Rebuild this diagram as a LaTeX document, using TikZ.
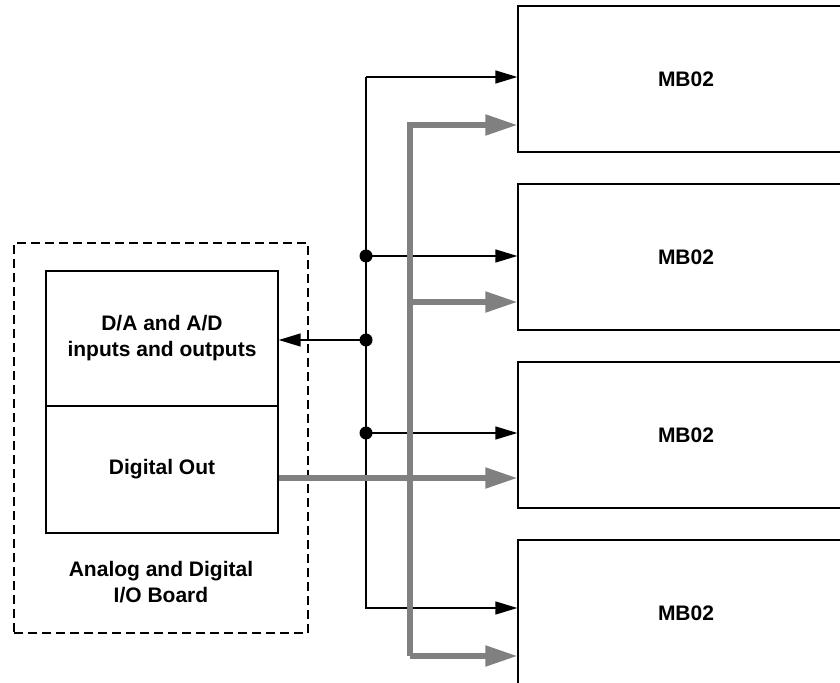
\documentclass[tikz,border=0pt]{standalone}
\usepackage{fontspec}
\setmainfont{Liberation Sans}
\usetikzlibrary{arrows.meta}
\definecolor{busgray}{HTML}{808080}
\tikzset{
  px/.style={x=0.5pt,y=-0.5pt},
  lbl/.style={font=\fontsize{10.5}{13}\selectfont\bfseries, align=center},
  mbbox/.style={draw, line width=0.7pt, minimum width=168pt, minimum height=73pt, inner sep=0pt, lbl},
  iobox/.style={draw, line width=0.7pt, minimum width=116pt, inner sep=0pt, lbl},
  board/.style={draw, line width=1.3pt, dash pattern=on 4.5pt off 2.5pt, minimum width=147pt, minimum height=195pt},
  blk/.style={draw, line width=0.75pt, line join=miter},
  blkarrow/.style={blk, -{Triangle[length=11pt,width=6.5pt]}},
  gry/.style={draw=busgray, line width=2.6pt, line join=miter},
  gryarrow/.style={gry, -{Triangle[length=16pt,width=10pt]}},
  jdot/.style={circle, fill, inner sep=0pt, minimum size=6.5pt}
}
\begin{document}
\begin{tikzpicture}[px]
\useasboundingbox (0,0) rectangle (840,683);
% MB02 boxes
\node[mbbox] (mb1) at (686,79) {MB02};
\node[mbbox] (mb2) at (686,257) {MB02};
\node[mbbox] (mb3) at (686,435) {MB02};
\node[mbbox] (mb4) at (686,613) {MB02};
% I/O board
\node[board] (board) at (161,438) {};
\node[iobox, minimum height=67.5pt] (da) at (162,338.5) {D/A and A/D\\inputs and outputs};
\node[iobox, minimum height=63.5pt] (dout) at (162,469.5) {Digital Out};
\node[lbl] (boardlbl) at (161,582) {Analog and Digital\\I/O Board};
% black bus
\coordinate (b1) at (366,77);
\coordinate (b4) at (366,608);
\node[jdot] (j2) at (366,256) {};
\node[jdot] (jda) at (366,340) {};
\node[jdot] (j3) at (366,433) {};
\draw[blkarrow] (b1) -- (b4) -- (b4 -| mb4.west);
\draw[blkarrow] (b1) -- (b1 -| mb1.west);
\draw[blkarrow] (j2.center) -- (j2 -| mb2.west);
\draw[blkarrow] (j3.center) -- (j3 -| mb3.west);
\draw[blkarrow] (jda.center) -- (jda -| da.east);
% gray bus
\coordinate (g1) at (410,125);
\coordinate (g2) at (410,302);
\coordinate (g4) at (410,656);
\draw[gryarrow] (g4) -- (g1) -- (g1 -| mb1.west);
\draw[gryarrow] (g4) -- (g4 -| mb4.west);
\draw[gryarrow] (g2) -- (g2 -| mb2.west);
\draw[gryarrow] (dout.east |- 0,478) -- (mb3.west |- 0,478);
\end{tikzpicture}
\end{document}
